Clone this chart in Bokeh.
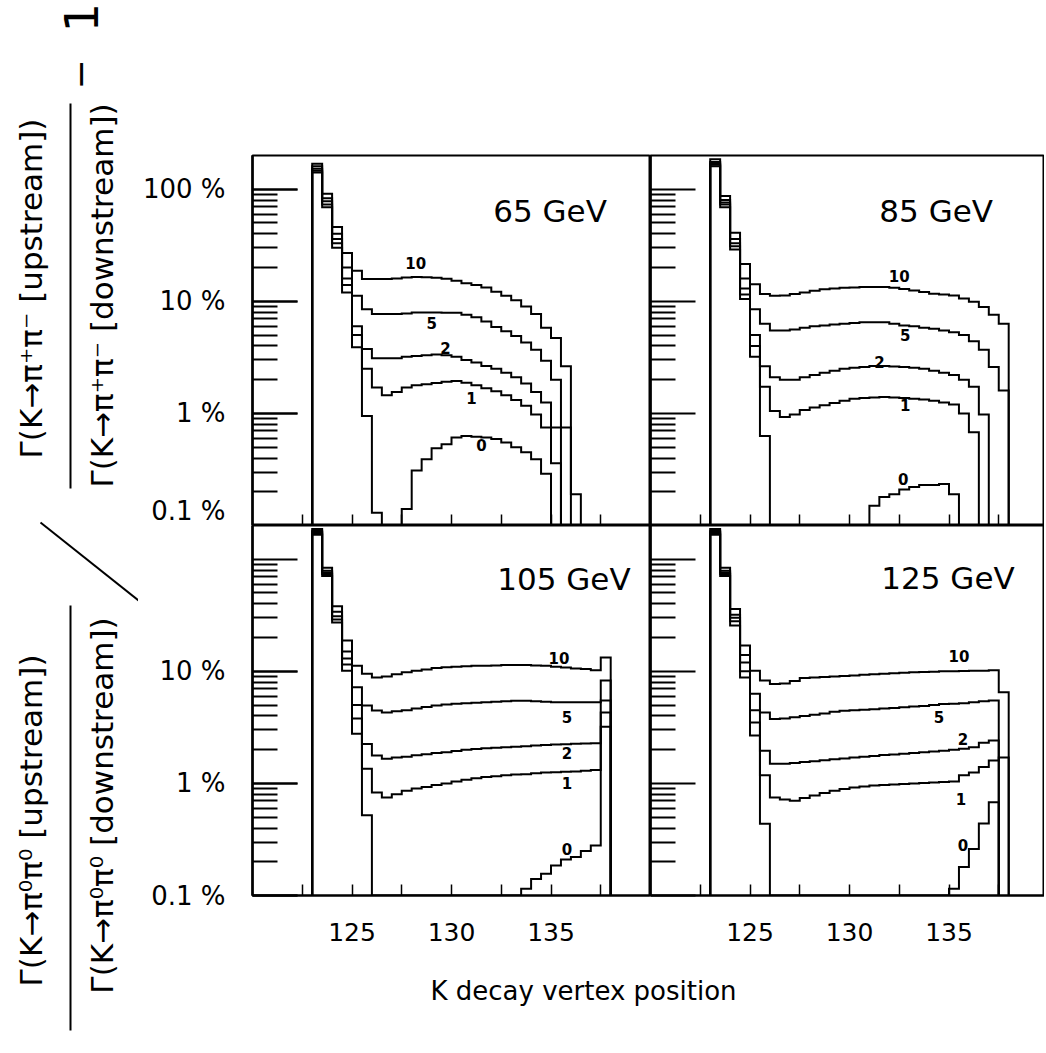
import math
from bokeh.plotting import figure
from bokeh.models import Range1d, FixedTicker, LogAxis
from bokeh.layouts import row, column
from bokeh.embed import file_html
from bokeh.resources import INLINE
from bokeh.core.properties import value

# ---------------- data ----------------
bin_start = 123.0          # first bin edge (K decay vertex position)
bin_width = 0.5
curve_names = ["10", "5", "2", "1", "0"]

# 65 GeV  (values in %, one per bin; 0 = empty bin)
gev65_c10 = [169, 91, 46, 27, 18.7, 15.8, 15.8, 15.8, 16.0, 16.3, 16.5, 16.4, 16.2, 15.9, 15.3,
             14.5, 14.0, 13.3, 12.2, 11.2, 10.2, 9.0, 7.7, 5.8, 4.7, 2.64, 0.19]
gev65_c5 = [160, 83, 40, 20, 11.2, 8.5, 7.7, 7.7, 7.7, 7.8, 7.95, 7.95, 7.95, 7.9, 7.9,
            7.6, 7.2, 6.6, 5.9, 5.4, 4.9, 4.3, 3.7, 2.95, 2.0, 0.75]
gev65_c2 = [152, 78, 36, 16, 6.0, 3.75, 3.1, 3.1, 3.1, 3.2, 3.25, 3.3, 3.35, 3.3, 3.2,
            3.0, 2.85, 2.65, 2.5, 2.3, 2.1, 1.85, 1.55, 1.25, 0.75]
gev65_c1 = [146, 73, 33, 14, 5.0, 2.5, 1.7, 1.45, 1.55, 1.7, 1.78, 1.82, 1.87, 1.92, 1.95,
            1.88, 1.78, 1.68, 1.58, 1.45, 1.32, 1.17, 0.98, 0.75, 0.36]
gev65_c0 = [141, 69, 30, 12, 3.9, 0.95, 0.13, 0, 0, 0.14, 0.31, 0.39, 0.49, 0.53, 0.61,
            0.63, 0.62, 0.61, 0.59, 0.55, 0.50, 0.45, 0.39, 0.29]

# 85 GeV
gev85_c10 = [185, 87, 41, 21.5, 14.2, 11.6, 11.2, 11.3, 11.6, 12.0, 12.4, 12.8, 13.0, 13.2, 13.3,
             13.4, 13.4, 13.4, 13.2, 12.9, 12.5, 12.1, 11.7, 11.5, 11.3, 10.6, 9.9, 8.9, 7.6, 6.3]
gev85_c5 = [175, 80, 36, 16, 8.5, 6.3, 5.5, 5.5, 5.6, 5.8, 6.0, 6.1, 6.2, 6.3, 6.4,
            6.5, 6.5, 6.5, 6.3, 6.1, 6.0, 5.8, 5.7, 5.5, 5.3, 5.0, 4.4, 3.7, 2.6, 1.6]
gev85_c2 = [170, 76, 33, 13, 5.0, 2.64, 2.1, 2.0, 2.0, 2.1, 2.2, 2.3, 2.4, 2.5, 2.55,
            2.6, 2.65, 2.65, 2.62, 2.6, 2.55, 2.5, 2.4, 2.3, 2.2, 2.0, 1.73, 0.98]
gev85_c1 = [165, 73, 31, 11.5, 4.0, 1.73, 1.05, 0.93, 0.98, 1.07, 1.13, 1.18, 1.24, 1.3, 1.35,
            1.37, 1.39, 1.4, 1.39, 1.37, 1.35, 1.33, 1.3, 1.25, 1.2, 1.0, 0.68]
gev85_c0 = [160, 69, 29, 10.5, 3.2, 0.63, 0, 0, 0, 0, 0, 0, 0, 0, 0,
            0, 0.15, 0.18, 0.19, 0.21, 0.22, 0.23, 0.23, 0.235, 0.19]

# 105 GeV
gev105_c10 = [186, 84, 38, 18.8, 11.2, 9.5, 8.8, 9.0, 9.4, 9.8, 10.1, 10.4, 10.7, 10.9, 11.0,
              11.1, 11.2, 11.2, 11.3, 11.4, 11.4, 11.4, 11.3, 11.2, 11.0, 10.8, 10.6, 10.5, 10.2, 13.3]
gev105_c5 = [180, 79, 34, 15, 7.2, 4.95, 4.47, 4.3, 4.4, 4.5, 4.65, 4.8, 4.95, 5.05, 5.15,
             5.2, 5.25, 5.3, 5.35, 5.4, 5.45, 5.45, 5.4, 5.35, 5.3, 5.3, 5.3, 5.3, 5.3, 8.3]
gev105_c2 = [175, 76, 31, 13, 5.0, 2.25, 1.77, 1.66, 1.7, 1.73, 1.78, 1.82, 1.87, 1.9, 1.95,
             2.0, 2.03, 2.06, 2.08, 2.1, 2.12, 2.15, 2.18, 2.2, 2.22, 2.24, 2.26, 2.27, 2.28, 5.5]
gev105_c1 = [170, 74, 29, 11.5, 3.8, 1.35, 0.83, 0.75, 0.8, 0.86, 0.9, 0.93, 0.97, 1.0, 1.04,
             1.08, 1.11, 1.14, 1.16, 1.18, 1.2, 1.21, 1.23, 1.25, 1.26, 1.27, 1.28, 1.3, 1.32, 4.3]
gev105_c0 = [165, 71, 27.3, 10.1, 2.77, 0.52, 0, 0, 0, 0, 0, 0, 0, 0, 0,
             0, 0, 0, 0, 0, 0, 0.115, 0.14, 0.156, 0.185, 0.21, 0.22, 0.25, 0.28, 3.2]

# 125 GeV
gev125_c10 = [186, 84, 36, 17, 10.1, 8.3, 7.7, 7.8, 8.2, 8.7, 8.8, 8.9, 9.0, 9.1, 9.2,
              9.3, 9.4, 9.5, 9.6, 9.7, 9.8, 9.85, 9.9, 10.0, 10.0, 10.05, 10.1, 10.1, 10.2, 6.5]
gev125_c5 = [180, 79, 32, 14, 6.3, 4.3, 3.76, 3.8, 3.9, 4.0, 4.1, 4.2, 4.35, 4.45, 4.5,
             4.55, 4.6, 4.65, 4.7, 4.77, 4.85, 4.9, 5.0, 5.1, 5.15, 5.2, 5.3, 5.4, 5.5]
gev125_c2 = [175, 76, 30, 12, 4.5, 1.96, 1.5, 1.5, 1.52, 1.55, 1.58, 1.61, 1.64, 1.67, 1.7,
             1.73, 1.76, 1.79, 1.81, 1.84, 1.87, 1.9, 1.93, 1.96, 2.0, 2.04, 2.1, 2.3, 2.42]
gev125_c1 = [170, 74, 28, 10, 3.5, 1.18, 0.75, 0.72, 0.7, 0.74, 0.78, 0.82, 0.86, 0.89, 0.92,
             0.94, 0.96, 0.97, 0.98, 0.99, 1.0, 1.01, 1.02, 1.03, 1.04, 1.18, 1.25, 1.4, 1.6, 1.7]
gev125_c0 = [165, 71, 25.7, 8.8, 2.67, 0.436, 0, 0, 0, 0, 0, 0, 0, 0, 0,
             0, 0, 0, 0, 0, 0, 0, 0, 0, 0.115, 0.18, 0.26, 0.44, 0.68]

energy_labels = ["65 GeV", "85 GeV", "105 GeV", "125 GeV"]

x_label_ticks = [125, 130, 135]
x_minor_ticks = [122.5, 127.5, 132.5, 137.5]
y_decades = [0.1, 1, 10, 100]
y_labels_top = {0.1: "0.1 %", 1: "1 %", 10: "10 %", 100: "100 %"}
y_labels_bottom = {0.1: "0.1 %", 1: "1 %", 10: "10 %"}

# annotation positions (data coordinates of each panel)
lab65_x, lab65_y = [128.2, 129.0, 129.7, 131.0, 131.5], [22, 6.4, 3.85, 1.36, 0.52]
lab85_x, lab85_y = [132.5, 132.8, 131.5, 132.8, 132.7], [16.9, 5.0, 2.9, 1.2, 0.26]
lab105_x, lab105_y = [135.4, 135.8, 135.8, 135.8, 135.8], [13.2, 3.9, 1.85, 1.0, 0.26]
lab125_x, lab125_y = [135.5, 134.5, 135.7, 135.6, 135.7], [13.8, 3.9, 2.5, 0.72, 0.28]
energy_pos = [(132.1, 64), (131.5, 64), (132.3, 67), (131.6, 68)]

# ---------------- drawing ----------------
FONT = "DejaVu Sans"
FLOOR = 0.1
Y_MIN, Y_MAX = 0.1, 200
PX_PER_UNIT = 19.9


def step_path(vals):
    xs, ys = [bin_start], [FLOOR]
    for i, v in enumerate(vals):
        yv = v if v > 0 else FLOOR
        x0 = bin_start + i * bin_width
        xs += [x0, x0 + bin_width]
        ys += [yv, yv]
    xs.append(bin_start + len(vals) * bin_width)
    ys.append(FLOOR)
    return xs, ys


minor_y = [m * 10.0 ** d for d in range(-1, 3) for m in range(2, 10) if m * 10.0 ** d < Y_MAX]


def make_panel(curves, lab_x, lab_y, energy, epos, frame_w, left, top):
    x_end = 120 + frame_w / PX_PER_UNIT
    p = figure(frame_width=frame_w, frame_height=370,
               x_range=Range1d(120, x_end), y_range=Range1d(Y_MIN, Y_MAX),
               y_axis_type="log", y_axis_location=None,
               output_backend="svg", toolbar_location=None,
               min_border=0,
               min_border_left=114 if left else 0,
               min_border_top=155 if top else 0,
               min_border_bottom=0 if top else 60,
               min_border_right=0)
    p.xgrid.visible = False
    p.ygrid.visible = False
    p.outline_line_color = "black"
    p.outline_line_width = 2
    p.background_fill_color = "white"
    p.border_fill_color = "white"

    # x axis: ticks pointing inward
    xa = p.xaxis[0]
    if top:
        xa.ticker = FixedTicker(ticks=[], minor_ticks=x_label_ticks + x_minor_ticks)
    else:
        xa.ticker = FixedTicker(ticks=x_label_ticks, minor_ticks=x_minor_ticks)
        xa.major_label_text_font = FONT
        xa.major_label_text_font_size = "25px"
        xa.major_label_text_color = "black"
        xa.major_label_standoff = 27
    xa.major_tick_in = 11
    xa.major_tick_out = 0
    xa.minor_tick_in = 11
    xa.minor_tick_out = 0
    xa.axis_line_width = 2
    xa.major_tick_line_width = 1.5
    xa.minor_tick_line_width = 1.5

    # y axis A: long unlabeled decade ticks
    ya = LogAxis(ticker=FixedTicker(ticks=[], minor_ticks=y_decades),
                 minor_tick_in=45, minor_tick_out=0, major_tick_in=0, major_tick_out=0,
                 minor_tick_line_width=2, axis_line_width=2)
    p.add_layout(ya, "left")
    # y axis B: short minor ticks (+ labels on the left column)
    if left:
        labels = y_labels_top if top else y_labels_bottom
        yb = LogAxis(ticker=FixedTicker(ticks=list(labels.keys()), minor_ticks=minor_y),
                     major_label_overrides=labels,
                     major_tick_in=45, major_tick_out=0, minor_tick_in=25, minor_tick_out=0,
                     major_tick_line_width=2, minor_tick_line_width=2, axis_line_width=2,
                     major_label_text_font=FONT, major_label_text_font_size="26px",
                     major_label_text_color="black", major_label_standoff=27)
    else:
        yb = LogAxis(ticker=FixedTicker(ticks=[], minor_ticks=minor_y),
                     major_tick_in=0, major_tick_out=0, minor_tick_in=25, minor_tick_out=0,
                     minor_tick_line_width=2, axis_line_width=2)
    p.add_layout(yb, "left")

    for vals in curves:
        xs, ys = step_path(vals)
        p.line(xs, ys, line_color="black", line_width=2, line_join="miter")

    p.text(x=lab_x, y=lab_y, text=curve_names, text_font=value(FONT),
           text_font_size="15px", text_font_style="bold", text_color="black",
           text_align="center", text_baseline="middle")
    p.text(x=[epos[0]], y=[epos[1]], text=[energy], text_font=value(FONT),
           text_font_size="31px", text_color="black",
           text_align="left", text_baseline="middle")
    return p


p65 = make_panel([gev65_c10, gev65_c5, gev65_c2, gev65_c1, gev65_c0], lab65_x, lab65_y,
                 energy_labels[0], energy_pos[0], 398, True, True)
p85 = make_panel([gev85_c10, gev85_c5, gev85_c2, gev85_c1, gev85_c0], lab85_x, lab85_y,
                 energy_labels[1], energy_pos[1], 394, False, True)
p105 = make_panel([gev105_c10, gev105_c5, gev105_c2, gev105_c1, gev105_c0], lab105_x, lab105_y,
                  energy_labels[2], energy_pos[2], 398, True, False)
p125 = make_panel([gev125_c10, gev125_c5, gev125_c2, gev125_c1, gev125_c0], lab125_x, lab125_y,
                  energy_labels[3], energy_pos[3], 394, False, False)

# ---- rotated double-ratio y label (coordinates = page pixels) ----
lab = figure(width=138, height=1045, x_range=Range1d(0, 138), y_range=Range1d(1045, 0),
             output_backend="svg", toolbar_location=None, min_border=0,
             x_axis_location=None, y_axis_location=None)
lab.xgrid.visible = False
lab.ygrid.visible = False
lab.outline_line_color = None
rot = math.pi / 2
lab.text(x=[30, 101, 30, 101], y=[288, 295, 820, 805],
         text=["Γ(K→π⁺π⁻ [upstream])", "Γ(K→π⁺π⁻ [downstream])",
               "Γ(K→π⁰π⁰ [upstream])", "Γ(K→π⁰π⁰ [downstream])"],
         angle=rot, text_font=value(FONT), text_font_size="31px", text_color="black",
         text_align="center", text_baseline="middle")
lab.text(x=[80], y=[17], text=["1"], angle=rot, text_font=value(FONT),
         text_font_size="46px", text_color="black", text_align="center", text_baseline="middle")
lab.text(x=[79], y=[74], text=["−"], angle=rot, text_font=value(FONT),
         text_font_size="36px", text_color="black", text_align="center", text_baseline="middle")
lab.segment(x0=[70, 70, 40], y0=[103, 605, 522], x1=[70, 70, 138], y1=[488, 1030, 600],
            line_color="black", line_width=2)

# ---- x axis title ----
xt = figure(width=906, height=80, x_range=Range1d(138, 1044), y_range=Range1d(1035, 955),
            output_backend="svg", toolbar_location=None, min_border=0,
            x_axis_location=None, y_axis_location=None)
xt.xgrid.visible = False
xt.ygrid.visible = False
xt.outline_line_color = None
xt.text(x=[583], y=[990], text=["K decay vertex position"], text_font=value(FONT),
        text_font_size="26px", text_color="black", text_align="center", text_baseline="middle")

layout = row(lab, column(row(p65, p85), row(p105, p125), xt))

open("out.html", "w").write(file_html(layout, INLINE))
